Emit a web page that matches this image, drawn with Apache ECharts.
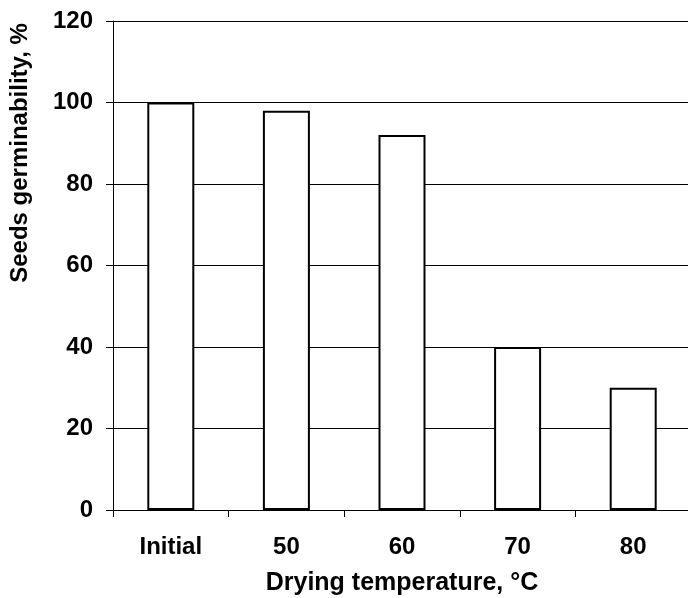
<!DOCTYPE html>
<html>
<head>
<meta charset="utf-8">
<script src="https://cdn.jsdelivr.net/npm/echarts@6/dist/echarts.min.js"></script>
<style>html,body{margin:0;padding:0;background:#fff}#c{width:688px;height:598px}</style>
</head>
<body>
<div id="c"></div>
<script>
const categories = ['Initial', '50', '60', '70', '80'];
const germinability = [100, 98, 92, 40, 30];
const yTicks = {min: 0, max: 120, interval: 20};
const xTitle = 'Drying temperature, °C';
const yTitle = 'Seeds germinability, %';

const FONT = '"Liberation Sans", Arial, sans-serif';
const chart = echarts.init(document.getElementById('c'), null, {renderer: 'canvas'});
chart.setOption({
  animation: false,
  backgroundColor: '#fff',
  grid: {left: 113, right: -3, top: 21, bottom: 88, containLabel: false, outerBoundsMode: 'none'},
  xAxis: {
    type: 'category',
    data: categories,
    boundaryGap: true,
    axisLine: {lineStyle: {color: '#000', width: 1}},
    axisTick: {show: true, length: 7, inside: false, alignWithLabel: false, lineStyle: {color: '#000'}},
    axisLabel: {color: '#000', fontFamily: FONT, fontWeight: 'bold', fontSize: 24, margin: 25},
    name: xTitle,
    nameLocation: 'middle',
    nameGap: 61,
    nameTextStyle: {color: '#000', fontFamily: FONT, fontWeight: 'bold', fontSize: 25}
  },
  yAxis: {
    type: 'value',
    min: yTicks.min, max: yTicks.max, interval: yTicks.interval,
    axisLine: {show: true, lineStyle: {color: '#000', width: 1}},
    axisTick: {show: true, length: 7, lineStyle: {color: '#000'}},
    splitLine: {show: true, lineStyle: {color: '#000', width: 1}},
    axisLabel: {color: '#000', fontFamily: FONT, fontWeight: 'bold', fontSize: 24, margin: 20}
  },
  graphic: [{
    type: 'text',
    x: 20, y: 153,
    rotation: Math.PI / 2,
    style: {
      text: yTitle,
      font: 'bold 24px ' + FONT,
      fill: '#000',
      align: 'center',
      verticalAlign: 'middle'
    }
  }],
  series: [{
    type: 'bar',
    data: germinability,
    barWidth: 47,
    itemStyle: {color: '#fff', borderColor: '#000', borderWidth: 2}
  }]
});
</script>
</body>
</html>
